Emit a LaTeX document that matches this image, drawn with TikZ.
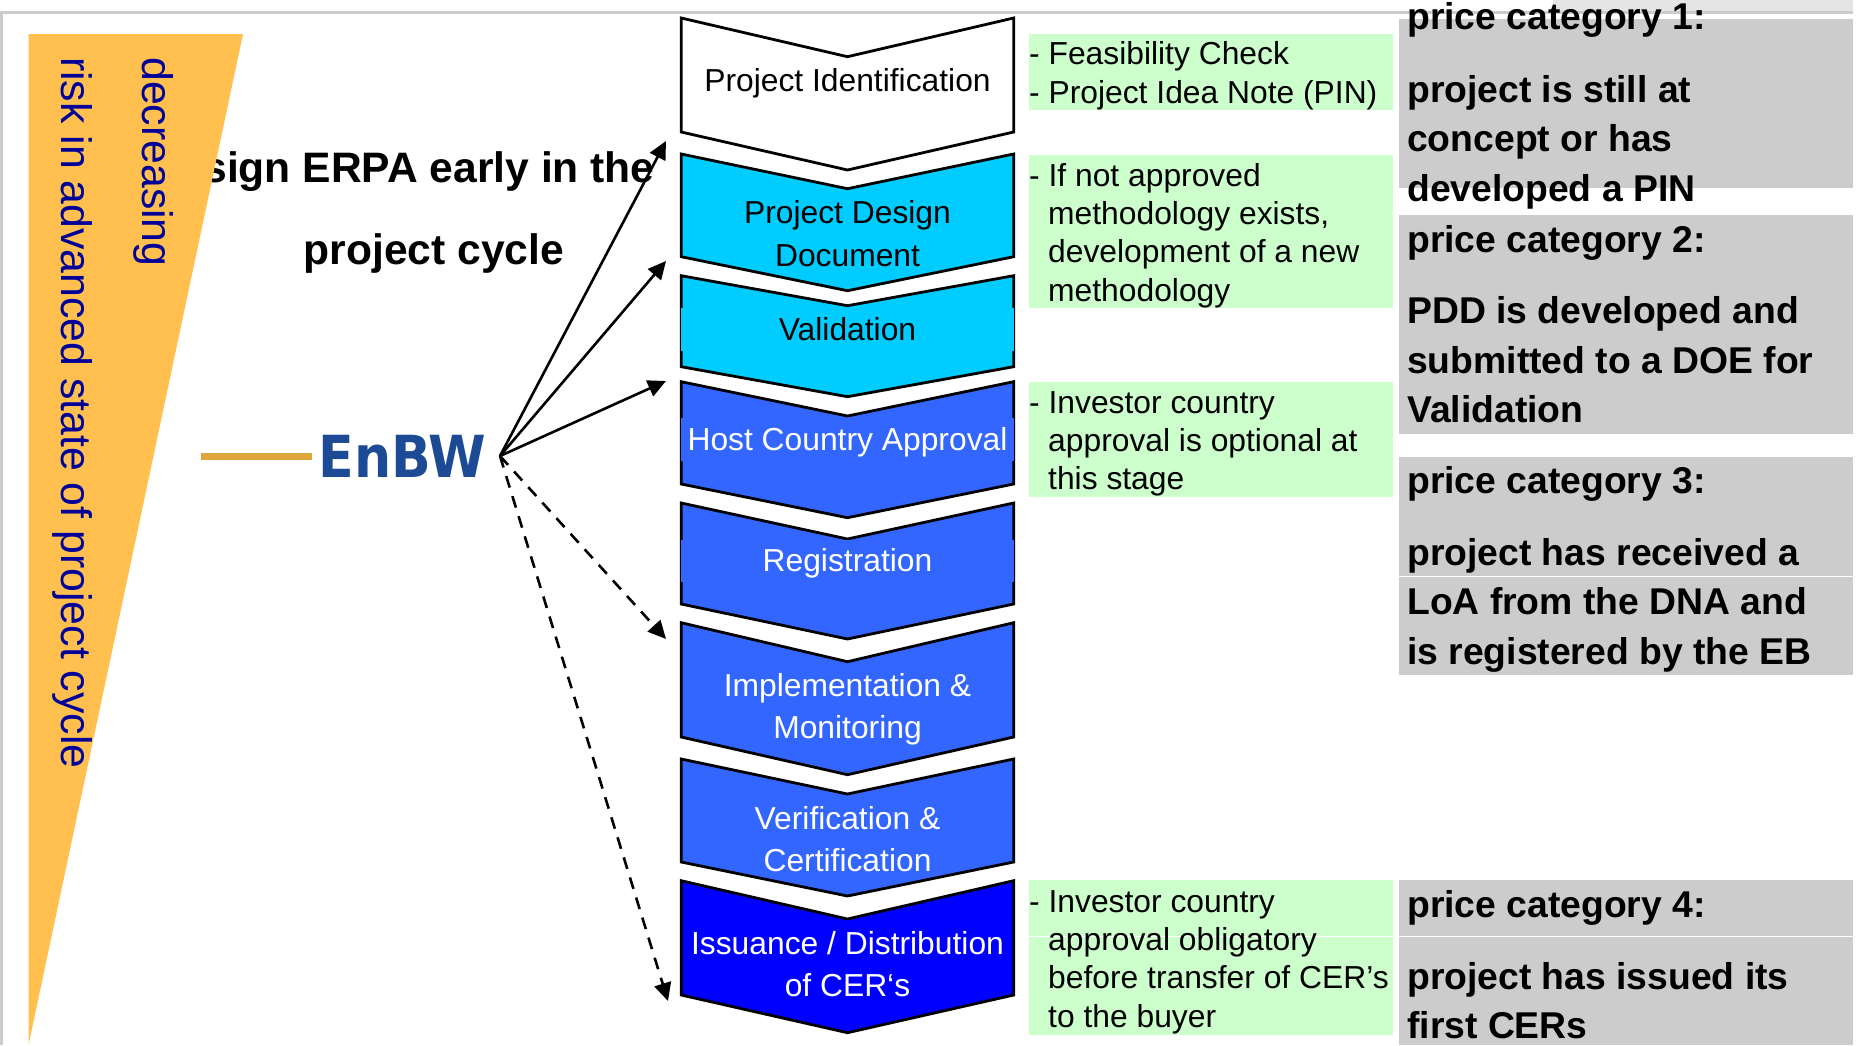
\documentclass[tikz,border=0pt]{standalone}
\usepackage{fontspec}
\setmainfont{Liberation Sans}
\newfontfamily\logofont{DejaVu Sans}
\usetikzlibrary{arrows.meta}
\definecolor{cyanfill}{HTML}{00CCFF}
\definecolor{midblue}{HTML}{3366FF}
\definecolor{deepblue}{HTML}{0000FF}
\definecolor{notegreen}{HTML}{CCFFCC}
\definecolor{pricegrey}{HTML}{CCCCCC}
\definecolor{wedge}{HTML}{FFC050}
\definecolor{risktext}{HTML}{000099}
\definecolor{logoblue}{HTML}{1C4A94}
\definecolor{logoorange}{HTML}{E0A63C}
\newcommand{\chev}[5]{\path[chevron,fill=#5] (681.2,#1) -- (847.5,#2) -- (1013.7,#1) -- (1013.7,#3) -- (847.5,#4) -- (681.2,#3) -- cycle;}
\tikzset{
  chevron/.style={draw=black,line width=2.8pt,line join=miter},
  lab/.style={inner sep=0pt,anchor=base,font=\fontsize{31.8}{38}\selectfont},
  notetext/.style={inner sep=0pt,anchor=base west,font=\fontsize{31.8}{38}\selectfont},
  pricetext/.style={inner sep=0pt,anchor=base west,font=\fontsize{37.3}{44}\selectfont\bfseries},
  headtext/.style={inner sep=0pt,anchor=base,font=\fontsize{42.6}{50}\selectfont\bfseries},
  risk/.style={inner sep=0pt,anchor=base west,rotate=-90,text=risktext,font=\fontsize{42.8}{50}\selectfont},
  solidarrow/.style={-{Triangle[length=18pt,width=17pt]},line width=2.6pt},
  dasharrow/.style={-{Triangle[length=18pt,width=17pt]},line width=2.6pt,dash pattern=on 12pt off 9pt},
}
\begin{document}
\begin{tikzpicture}[x=1pt,y=-1pt]
\useasboundingbox (0,0) rectangle (1856,1045);
\fill[white] (0,0) rectangle (1856,1045);
% page frame
\fill[black!10] (1553,0) rectangle (1853,11);
\fill[pricegrey] (0,11) rectangle (1853,14);
\fill[pricegrey] (0,11) rectangle (3,1045);
% heading, partly under the wedge
\node[headtext] (head1) at (429,182) {sign ERPA early in the};
\node[headtext] (head2) at (434,264) {project cycle};
% wedge
\fill[wedge] (28.5,34) -- (243,34) -- (28.5,1045) -- cycle;
\node[risk] (riskA) at (142,57) {decreasing};
\node[risk] (riskB) at (61,57) {risk in advanced state of project cycle};
% logo
\fill[logoorange] (201,452.5) rectangle (312,459.5);
\node[inner sep=0pt,anchor=base,text=logoblue,xscale=.9,font=\logofont\fontsize{58}{60}\selectfont\bfseries] (logo) at (402.5,477) {EnBW};
% chevrons
\chev{18}{56.7}{132}{170}{white}
\chev{154}{188.7}{256.7}{290.7}{cyanfill}
\chev{275.7}{305.7}{366.7}{396.7}{cyanfill}
\fill[cyanfill] (680.6,308) rectangle (1014.4,351);
\chev{381.7}{416}{484}{517.7}{midblue}
\fill[midblue] (680.6,418) rectangle (1014.4,461);
\chev{503}{539}{604}{639}{midblue}
\fill[midblue] (680.6,540) rectangle (1014.4,582);
\chev{622.7}{661.7}{737}{774.7}{midblue}
\chev{759}{794}{862}{896}{midblue}
\chev{880.7}{919}{995}{1032.7}{deepblue}
% chevron labels
\node[lab] (c1) at (847.5,91) {Project Identification};
\node[lab] (c2a) at (847.5,223) {Project Design};
\node[lab] (c2b) at (847.5,266) {Document};
\node[lab] (c3) at (847.5,340) {Validation};
\node[lab,text=white] (c4) at (847.5,450) {Host Country Approval};
\node[lab,text=white] (c5) at (847.5,571) {Registration};
\node[lab,text=white] (c6a) at (847.5,696) {Implementation \&};
\node[lab,text=white] (c6b) at (847.5,738) {Monitoring};
\node[lab,text=white] (c7a) at (847.5,829) {Verification \&};
\node[lab,text=white] (c7b) at (847.5,871) {Certification};
\node[lab,text=white] (c8a) at (847.5,954) {Issuance / Distribution};
\node[lab,text=white] (c8b) at (847.5,996) {of CER‘s};
% green notes and grey boxes
\fill[notegreen] (1029,34) rectangle (1393,110);
\fill[notegreen] (1029,155) rectangle (1393,307.7);
\fill[notegreen] (1029,382) rectangle (1393,497);
\fill[notegreen] (1029,880) rectangle (1393,1035);
\fill[pricegrey] (1399,19) rectangle (1853,187.5);
\fill[pricegrey] (1399,215) rectangle (1853,433.5);
\fill[pricegrey] (1399,457) rectangle (1853,675);
\fill[pricegrey] (1399,880) rectangle (1853,1045);
\fill[white] (1399,575.5) rectangle (1853,577);
\fill[white] (1029,935.5) rectangle (1853,937);
% note texts
\node[notetext] (n1a) at (1029,64) {- Feasibility Check};
\node[notetext] (n1b) at (1029,103) {- Project Idea Note (PIN)};
\node[notetext] (n2a) at (1029,186) {- If not approved};
\node[notetext] (n2b) at (1048,224) {methodology exists,};
\node[notetext] (n2c) at (1048,262) {development of a new};
\node[notetext] (n2d) at (1048,301) {methodology};
\node[notetext] (n3a) at (1029,413) {- Investor country};
\node[notetext] (n3b) at (1048,451) {approval is optional at};
\node[notetext] (n3c) at (1048,489) {this stage};
\node[notetext] (n4a) at (1029,912) {- Investor country};
\node[notetext] (n4b) at (1048,950) {approval obligatory};
\node[notetext] (n4c) at (1048,988) {before transfer of CER’s};
\node[notetext] (n4d) at (1048,1027) {to the buyer};
% price texts
\node[pricetext] (p1a) at (1407,29) {price category 1:};
\node[pricetext] (p1b) at (1407,102) {project is still at};
\node[pricetext] (p1c) at (1407,151) {concept or has};
\node[pricetext] (p1d) at (1407,201) {developed a PIN};
\node[pricetext] (p2a) at (1407,252) {price category 2:};
\node[pricetext] (p2b) at (1407,323) {PDD is developed and};
\node[pricetext] (p2c) at (1407,373) {submitted to a DOE for};
\node[pricetext] (p2d) at (1407,422) {Validation};
\node[pricetext] (p3a) at (1407,493) {price category 3:};
\node[pricetext] (p3b) at (1407,565) {project has received a};
\node[pricetext] (p3c) at (1407,614) {LoA from the DNA and};
\node[pricetext] (p3d) at (1407,664) {is registered by the EB};
\node[pricetext] (p4a) at (1407,917) {price category 4:};
\node[pricetext] (p4b) at (1407,989) {project has issued its};
\node[pricetext] (p4c) at (1407,1038) {first CERs};
% arrows
\coordinate (src) at (500,456);
\coordinate (t1) at (666,141);
\coordinate (t2) at (666,261);
\coordinate (t3) at (666,381);
\coordinate (t4) at (666,639);
\coordinate (t5) at (668,1001);
\draw[solidarrow] (src) -- (t1);
\draw[solidarrow] (src) -- (t2);
\draw[solidarrow] (src) -- (t3);
\draw[dasharrow] (src) -- (t4);
\draw[dasharrow] (src) -- (t5);
\end{tikzpicture}
\end{document}
